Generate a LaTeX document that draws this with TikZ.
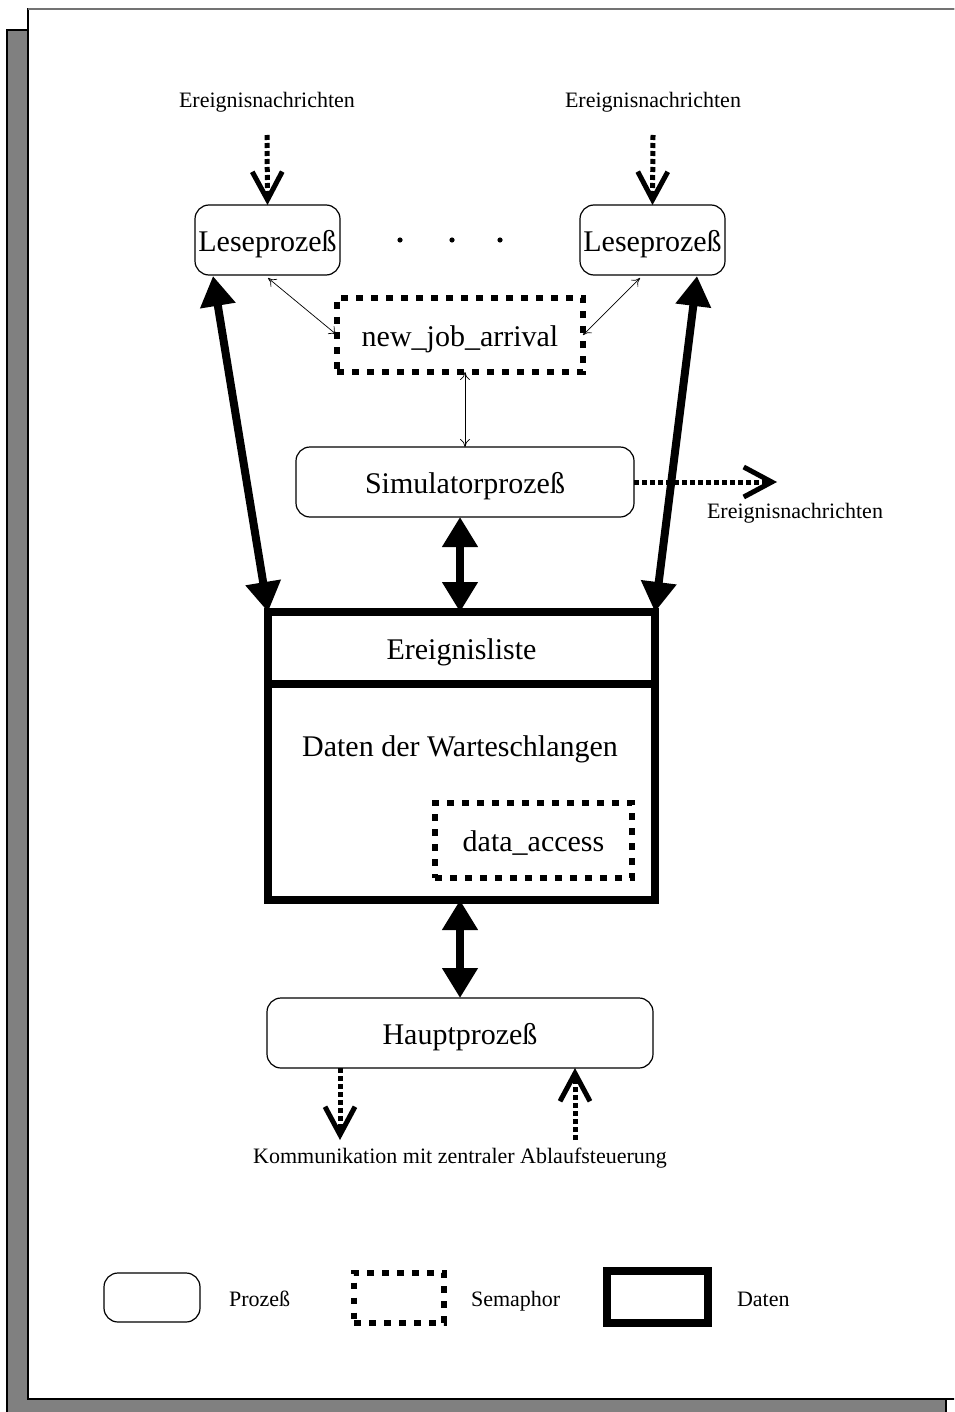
\documentclass[tikz,border=0pt]{standalone}
\usepackage{fontspec}
\setmainfont{Liberation Serif}
\usetikzlibrary{arrows.meta}
\begin{document}
\begin{tikzpicture}[x=0.5pt,y=-0.5pt,
  big/.style={font=\fontsize{15}{18}\selectfont, text height=1.1em, text depth=0pt},
  small/.style={font=\fontsize{11}{13}\selectfont, text height=0.7em, text depth=0pt},
  proc/.style={draw, line width=0.6pt, rounded corners=7pt, inner sep=0pt, outer sep=0pt, big},
  sema/.style={draw, line width=3pt, dash pattern=on 3.3pt off 4.2pt, inner sep=0pt, outer sep=0pt, big},
  datbox/.style={draw, line width=4pt, inner sep=0pt, outer sep=0pt},
  msg/.style={line width=2.5pt, dash pattern=on 2.5pt off 1.5pt,
    -{Straight Barb[length=14pt,width=15pt,line width=2.5pt]}},
  thin/.style={line width=0.35pt, {To[length=4pt,width=5pt]}-{To[length=4pt,width=5pt]}},
  thick/.style={line width=4pt,
    {Triangle[length=15pt,width=17pt]}-{Triangle[length=15pt,width=17pt]}}]
\useasboundingbox (0,0) rectangle (954,1412);
\clip (0,0) rectangle (954,1412);

% page frame with drop shadow
\draw[line width=0.8pt, fill=black!50] (7,30) rectangle (946,1430);
\draw[line width=1pt, fill=white] (28,9) rectangle (980,1399);
\draw[line width=1.2pt, black!55] (28,9) -- (980,9);

% reader processes
\node[proc, minimum width=72.5pt, minimum height=35pt] (lese1) at (267.5,240) {Leseprozeß};
\node[proc, minimum width=72.5pt, minimum height=35pt] (lese2) at (652.5,240) {Leseprozeß};
\foreach \i/\x in {1/400,2/452,3/500}
  \fill (\x,240) circle[radius=2.6] coordinate (dot\i);

% incoming event messages
\node[small] (msg1) at (267,101) {Ereignisnachrichten};
\node[small] (msg2) at (653,101) {Ereignisnachrichten};
\coordinate (in1) at (267,135);
\coordinate (in2) at (653,135);
\draw[msg] (in1) -- (lese1.north);
\draw[msg] (in2) -- (lese2.north);

% semaphore new_job_arrival
\node[sema, minimum width=123pt, minimum height=37pt] (newjob) at (460,335) {new\_job\_arrival};
\coordinate (l1s) at (268,278);
\coordinate (l2s) at (640,278);
\draw[thin] (l1s) -- (newjob.west);
\draw[thin] (l2s) -- (newjob.east);

% simulator process
\node[proc, minimum width=169pt, minimum height=35pt] (sim) at (465,482) {Simulatorprozeß};
\draw[thin] (newjob.south -| sim.north) -- (sim.north);

\node[small] (msg3) at (795,511) {Ereignisnachrichten};
\coordinate (out3) at (777,482);
\draw[msg] (sim.east) -- (out3);

% shared data
\node[datbox, minimum width=193.5pt, minimum height=144pt] (data) at (461.5,756) {};
\coordinate (divl) at (268,684);
\coordinate (divr) at (655,684);
\draw[line width=4pt] (divl) -- (divr);
\node[big] (elist) at (461.5,648) {Ereignisliste};
\node[big] (queues) at (460,745) {Daten der Warteschlangen};
\node[sema, minimum width=98.5pt, minimum height=37.5pt] (access) at (533.5,840.5) {data\_access};

% data access connectors
\coordinate (l1b) at (213,276);
\coordinate (l2b) at (697,276);
\draw[thick] (l1b) -- (data.north west);
\draw[thick] (l2b) -- (data.north east);
\draw[thick] (sim.south -| 460,0) -- (data.north -| 460,0);

% main process
\node[proc, minimum width=193pt, minimum height=35pt] (haupt) at (460,1033) {Hauptprozeß};
\draw[thick] (data.south -| 460,0) -- (haupt.north -| 460,0);

\coordinate (hout) at (340,1140);
\coordinate (hin) at (575,1140);
\draw[msg] (haupt.south -| hout) -- (hout);
\draw[msg] (hin) -- (haupt.south -| hin);
\node[small] (ctrl) at (460,1156) {Kommunikation mit zentraler Ablaufsteuerung};

% legend
\node[proc, minimum width=48pt, minimum height=24.5pt] (lgp) at (152,1297.5) {};
\node[small, anchor=west] (lgpt) at (222,1299) {Prozeß};
\node[sema, minimum width=45pt, minimum height=25pt] (lgs) at (399,1297.5) {};
\node[small, anchor=west] (lgst) at (464,1299) {Semaphor};
\node[datbox, minimum width=50.5pt, minimum height=26pt] (lgd) at (657.5,1297) {};
\node[small, anchor=west] (lgdt) at (730,1299) {Daten};
\end{tikzpicture}
\end{document}
